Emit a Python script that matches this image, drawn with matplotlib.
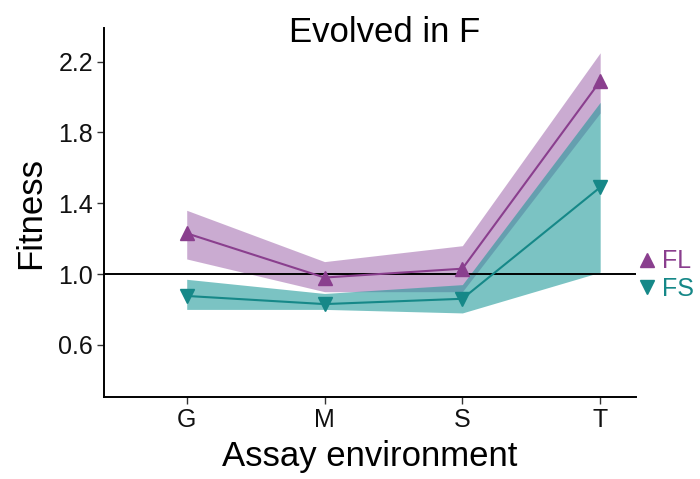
import matplotlib
matplotlib.use("Agg")
import matplotlib.pyplot as plt
from matplotlib.lines import Line2D

plt.rcParams['font.family'] = ['Liberation Sans', 'DejaVu Sans']

# ---- data ----
envs = ["G", "M", "S", "T"]

fl_mean = [1.23, 0.98, 1.03, 2.09]
fl_low = [1.085, 0.90, 0.90, 1.91]
fl_high = [1.36, 1.07, 1.16, 2.25]

fs_mean = [0.876, 0.83, 0.86, 1.49]
fs_low = [0.80, 0.80, 0.78, 1.01]
fs_high = [0.97, 0.89, 0.94, 1.97]

yticks = [0.6, 1.0, 1.4, 1.8, 2.2]

purple = "#8A3F8E"
teal = "#168888"

fig = plt.figure(figsize=(7, 4.79), dpi=100)
ax = fig.add_axes([0.1486, 0.1712, 0.76, 0.7703])

x = list(range(1, len(envs) + 1))

# ribbons (FL first, FS on top so the overlap goes dark)
ax.fill_between(x, fl_low, fl_high, color="#9251A0", alpha=0.48, linewidth=0)
ax.fill_between(x, fs_low, fs_high, color="#1C9898", alpha=0.58, linewidth=0)

ax.axhline(1.0, color="black", linewidth=1.4, zorder=3)

ax.plot(x, fl_mean, color=purple, linewidth=1.5, marker="^", markersize=9.5, zorder=4)
ax.plot(x, fs_mean, color=teal, linewidth=1.5, marker="v", markersize=9.5, zorder=4)

ax.set_xlim(0.4, 4.26)
ax.set_ylim(0.305, 2.39)
ax.set_xticks(x)
ax.set_xticklabels(envs)
ax.set_yticks(yticks)
ax.set_yticklabels([f"{v:.1f}" for v in yticks])

for side in ["top", "right"]:
    ax.spines[side].set_visible(False)
for side in ["left", "bottom"]:
    ax.spines[side].set_linewidth(1.4)
ax.tick_params(axis="both", labelsize=18, length=5, width=1, color="#333333",
               labelcolor="#111111", pad=3)

ax.set_xlabel("Assay environment", fontsize=25, labelpad=6)
ax.set_ylabel("Fitness", fontsize=25, labelpad=8)
# title sits inside the top of the panel in the reference
fig.text(385 / 700, 1 - 42 / 479, "Evolved in F", fontsize=25,
         ha="center", va="baseline")

handles = [
    Line2D([], [], color=purple, marker="^", linestyle="none", markersize=10),
    Line2D([], [], color=teal, marker="v", linestyle="none", markersize=10),
]
leg = ax.legend(handles, ["FL", "FS"], loc="center left", bbox_to_anchor=(0.965, 0.33),
                frameon=False, fontsize=18, handlelength=0.6, handletextpad=0.3,
                labelspacing=0.15, labelcolor="linecolor")

fig.savefig("out.png", dpi=100)
